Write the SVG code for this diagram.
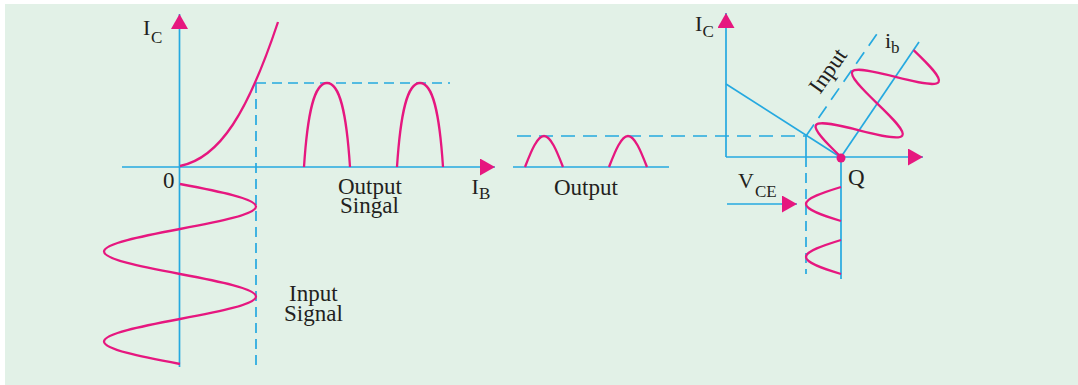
<svg xmlns="http://www.w3.org/2000/svg" width="1078" height="385" viewBox="0 0 1078 385">
<style>
.ax{stroke:#25A9E0;stroke-width:1.7;fill:none}
.da{stroke:#25A9E0;stroke-width:1.7;fill:none;stroke-dasharray:10 6}
.db{stroke:#25A9E0;stroke-width:1.7;fill:none;stroke-dasharray:14 8}
.mg{stroke:#E6177F;stroke-width:2.3;fill:none;vector-effect:non-scaling-stroke}
text{font-family:"Liberation Serif","Times New Roman",serif;fill:#231F20;font-size:23px}
.big{font-size:22px}
.sub{font-size:17px}
</style>
<defs>
<marker id="ah" markerUnits="userSpaceOnUse" markerWidth="16" markerHeight="18" refX="15" refY="8.5" orient="auto">
<path d="M0,0 L15,8.5 L0,17 Z" fill="#E6177F"/>
</marker>
</defs>
<rect x="5" y="4" width="1073" height="381" fill="#E2F1E7"/>

<g id="connectors">
<line class="da" x1="256" y1="83" x2="450" y2="83"/>
<line class="da" x1="256" y1="83" x2="256" y2="370"/>
<line class="db" x1="517" y1="136" x2="806" y2="136"/>
<line class="ax" x1="806" y1="136" x2="806" y2="157"/>
<line class="da" x1="806" y1="157" x2="806" y2="274"/>
<line class="db" x1="806" y1="136" x2="881" y2="28"/>
<line class="ax" x1="727" y1="204" x2="797" y2="204" marker-end="url(#ah)"/>
</g>

<g id="left-chart">
<line class="ax" x1="179.5" y1="367" x2="179.5" y2="14" marker-end="url(#ah)"/>
<line class="ax" x1="122" y1="167" x2="495" y2="167" marker-end="url(#ah)"/>
<path class="mg" d="M180,166 C220,158 248,112 278,22"/>
<path class="mg" d="M304,167 C307.5,113 314,83 327,83 C340,83 346.5,113 350,167"/>
<path class="mg" d="M397,167 C400.5,113 407,83 420,83 C433,83 439.5,113 443,167"/>
<path class="mg" transform="matrix(0,1,1,0,180,184)" d="M0,0 c7.35,38.97 14.6,76 22.5,76 c7.9,0 15.15,-37.03 22.5,-76 c7.35,-38.97 14.6,-76 22.5,-76 c7.9,0 15.15,37.03 22.5,76 c7.35,38.97 14.6,76 22.5,76 c7.9,0 15.15,-37.03 22.5,-76 c7.35,-38.97 14.6,-76 22.5,-76 c7.9,0 15.15,37.03 22.5,76"/>
<text class="big" x="143" y="35">I</text><text class="sub" x="151" y="43">C</text>
<text x="163" y="188">0</text>
<text class="big" x="471.5" y="194">I</text><text class="sub" x="479" y="199">B</text>
<text x="338" y="194">Output<tspan x="340" dy="19">Singal</tspan></text>
<text x="289" y="301">Input<tspan x="284" dy="19.5">Signal</tspan></text>
</g>

<g id="middle-output">
<line class="ax" x1="513" y1="167" x2="669" y2="167"/>
<path class="mg" d="M525,167 C531.2,151.1 537.3,136 544,136 C550.7,136 556.8,151.1 563,167"/>
<path class="mg" d="M609,167 C615.2,151.1 621.3,136 628,136 C634.7,136 640.8,151.1 647,167"/>
<text x="554" y="195">Output</text>
</g>

<g id="right-chart">
<line class="ax" x1="726" y1="157" x2="726" y2="13" marker-end="url(#ah)"/>
<line class="ax" x1="726" y1="157" x2="923" y2="157" marker-end="url(#ah)"/>
<line class="ax" x1="726" y1="84" x2="841" y2="157.5"/>
<line class="ax" x1="841" y1="157" x2="919" y2="42"/>
<line class="ax" x1="841" y1="157" x2="841" y2="279"/>
<path class="mg" transform="matrix(0.562,-0.827,-0.878,-0.480,841,157)" d="M0,0 c5.27,19.9 10.48,38.8 16.15,38.8 c5.67,0 10.88,-18.9 16.15,-38.8 c5.27,-19.9 10.48,-38.8 16.15,-38.8 c5.67,0 10.88,18.9 16.15,38.8 c5.27,19.9 10.48,38.8 16.15,38.8 c5.67,0 10.88,-18.9 16.15,-38.8 c5.27,-19.9 10.48,-38.8 16.15,-38.8 c5.67,0 10.88,18.9 16.15,38.8"/>
<path class="mg" d="M841,187 C823,192.5 806,198 806,204 C806,210 823,215.5 841,221"/>
<path class="mg" d="M841,240 C823,245.5 806,251 806,257 C806,263 823,268.5 841,274"/>
<circle cx="841" cy="158" r="4.5" fill="#E6177F"/>
<text class="big" x="695" y="31">I</text><text class="sub" x="702.5" y="37">C</text>
<text class="big" x="885" y="48">i</text><text class="sub" x="891" y="53">b</text>
<text class="big" x="738" y="188">V</text><text class="sub" x="755" y="197">CE</text>
<text x="848" y="185">Q</text>
<text x="834" y="75" text-anchor="middle" transform="rotate(-55 834 75)">Input</text>
</g>
</svg>
